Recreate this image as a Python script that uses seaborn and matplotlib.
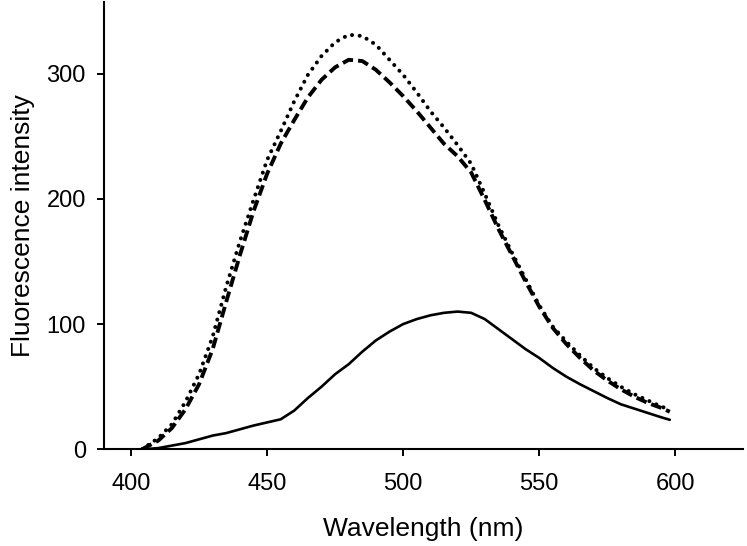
import numpy as np
import pandas as pd
import matplotlib
matplotlib.use("Agg")
import matplotlib.pyplot as plt
import seaborn as sns

# wavelengths (nm)
wl = [404, 410, 415, 420, 425, 430, 435, 440, 445, 450, 455, 460, 465, 470, 475,
      480, 485, 490, 495, 500, 505, 510, 515, 520, 525, 530, 535, 540, 545, 550,
      555, 560, 565, 570, 575, 580, 585, 590, 595, 598]

# dotted curve (highest)
dotted = [0, 9, 20, 38, 60, 90, 130, 166, 199, 231, 254, 278, 299, 314, 325,
          331, 330, 323, 311, 299, 285, 270, 257, 243, 228, 204, 179, 157, 136, 115,
          98, 86, 75, 65, 57, 50, 44, 39, 34, 32]

# dashed curve
dashed = [0, 7, 17, 32, 52, 80, 118, 155, 190, 220, 244, 263, 281, 295, 305,
          311, 310, 303, 293, 282, 270, 257, 244, 234, 221, 199, 176, 155, 134, 114,
          97, 84, 73, 63, 55, 48, 42, 37, 33, 30]

# solid curve
solid = [0, 1, 3, 5, 8, 11, 13, 16, 19, 21.5, 24, 31, 41, 50, 60,
         68, 78, 87, 94, 100, 104, 107, 109, 110, 109, 104, 96, 88, 80, 73,
         65, 58, 52, 46.5, 41, 36, 32.5, 29, 25.5, 23.6]

df = pd.DataFrame({"wl": wl, "dotted": dotted, "dashed": dashed, "solid": solid})

sns.set_style("ticks")
plt.rcParams['font.family'] = ['Liberation Sans', 'DejaVu Sans']
plt.rcParams['text.color'] = 'black'
plt.rcParams['axes.labelcolor'] = 'black'
plt.rcParams['xtick.color'] = 'black'
plt.rcParams['ytick.color'] = 'black'

fig, ax = plt.subplots(figsize=(7.47, 5.46), dpi=100)
fig.subplots_adjust(left=0.139, right=0.995, bottom=0.177, top=0.996)

sns.lineplot(data=df, x="wl", y="dotted", ax=ax, color="black", lw=2.9,
             linestyle=(0, (0.01, 1.9)), dash_capstyle="round")
sns.lineplot(data=df, x="wl", y="dashed", ax=ax, color="black", lw=2.8,
             linestyle=(0, (2.8, 1.3)))
sns.lineplot(data=df, x="wl", y="solid", ax=ax, color="black", lw=1.9)

ax.set_xlim(390, 625)
ax.set_ylim(0, 357)
ax.set_xticks([400, 450, 500, 550, 600])
ax.set_yticks([0, 100, 200, 300])
ax.set_xlabel("Wavelength (nm)", fontsize=19, labelpad=16)
ax.set_ylabel("Fluorescence intensity", fontsize=19, labelpad=8)
ax.tick_params(labelsize=17, length=5, width=1.4, direction="out", pad=8)
ax.tick_params(axis="x", pad=12)
for s in ["left", "bottom"]:
    ax.spines[s].set_linewidth(1.5)
    ax.spines[s].set_color("black")
sns.despine(ax=ax)

plt.savefig("out.png", dpi=100)
